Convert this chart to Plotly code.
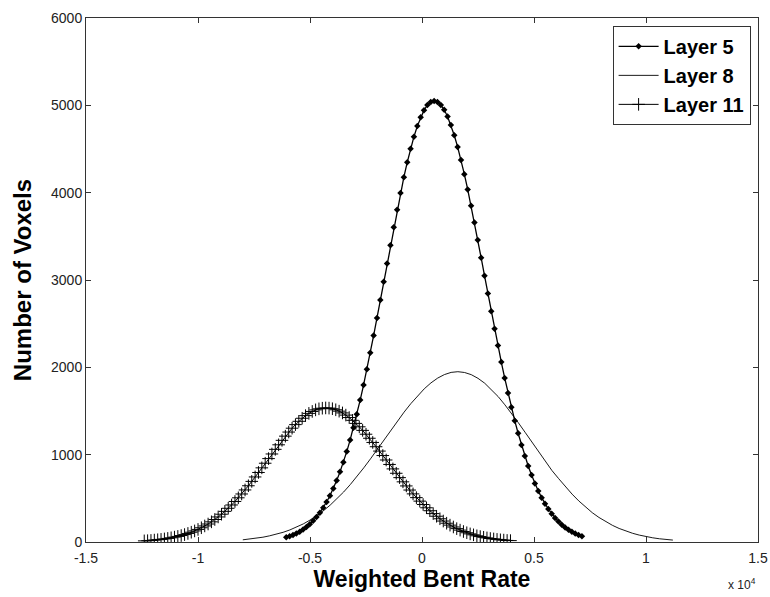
import plotly.graph_objects as go

# ---- data ----
# Layer 5: bins starting at -6060 with width 150
L5_START, L5_STEP = -6060, 150
layer5 = [54, 66, 80, 98, 118, 143, 171, 204, 242, 286, 336, 393, 458, 530, 612, 703,
          803, 914, 1035, 1167, 1309, 1462, 1625, 1797, 1978, 2168, 2364, 2565, 2771,
          2980, 3189, 3398, 3603, 3803, 3995, 4177, 4347, 4502, 4641, 4762, 4864, 4945,
          5003, 5038, 5050,
          5039, 5005, 4949, 4872, 4775, 4658, 4524, 4375, 4212, 4037, 3851, 3657, 3458,
          3255, 3050, 2845, 2642, 2443, 2249, 2060, 1879, 1706, 1543, 1389, 1245, 1110,
          986, 871, 767, 671, 585, 508, 439, 378, 324, 276, 234, 198, 167, 140, 117, 97,
          80, 66]

# Layer 8: bins starting at -8000 with width 300
L8_START, L8_STEP = -8000, 300
layer8 = [25, 33, 43, 55, 71, 89, 111, 138, 170, 207, 251, 301, 358, 422, 493, 572,
          658, 751, 849, 952, 1059, 1169, 1278, 1384, 1487, 1584, 1674, 1754, 1822, 1877,
          1917, 1942, 1950,
          1941, 1916, 1874, 1818, 1747, 1665, 1571, 1472, 1366, 1257, 1146, 1035, 925,
          819, 726, 633, 548, 470, 399, 336, 281, 232, 191, 155, 125, 100, 79, 62, 48,
          37, 29, 22]

# Layer 11: bins starting at -12400 with width 150
L11_START, L11_STEP = -12400, 150
layer11 = [13, 15, 18, 22, 26, 30, 35, 41, 48, 56, 64, 74, 85, 98, 112, 127, 144, 163,
           184, 206, 231, 258, 287, 318, 351, 386, 424, 464, 506, 550, 596, 644, 694,
           745, 796, 849, 902, 955, 1008, 1061, 1113, 1164, 1212, 1259, 1303, 1344, 1382,
           1417, 1447, 1473, 1495, 1513, 1525, 1532, 1535,
           1533, 1526, 1514, 1498, 1478, 1453, 1425, 1393, 1358, 1319, 1278, 1234, 1188,
           1140, 1091, 1041, 990, 939, 888, 837, 787, 737, 689, 642, 595, 551, 508, 468,
           429, 392, 358, 325, 295, 266, 240, 215, 193, 172, 153, 136, 120, 106, 93, 82,
           71, 62, 54, 47, 40, 35, 30, 25, 22, 18, 16]

x_tick_vals = [-15000, -10000, -5000, 0, 5000, 10000, 15000]
x_tick_text = ["-1.5", "-1", "-0.5", "0", "0.5", "1", "1.5"]
y_tick_vals = [0, 1000, 2000, 3000, 4000, 5000, 6000]

x5 = [L5_START + i * L5_STEP for i in range(len(layer5))]
x8 = [L8_START + i * L8_STEP for i in range(len(layer8))]
x11 = [L11_START + i * L11_STEP for i in range(len(layer11))]

FONT = "Liberation Sans, Arial, Helvetica, sans-serif"

fig = go.Figure()
fig.add_trace(go.Scatter(
    x=x5, y=layer5, mode="lines+markers", name="<b>Layer 5</b>",
    line=dict(color="black", width=1.3),
    marker=dict(symbol="diamond", size=5, color="black"),
))
fig.add_trace(go.Scatter(
    x=x8, y=layer8, mode="lines", name="<b>Layer 8</b>",
    line=dict(color="black", width=0.9),
))
fig.add_trace(go.Scatter(
    x=x11, y=layer11, mode="lines+markers", name="<b>Layer 11</b>",
    line=dict(color="black", width=1),
    marker=dict(symbol="cross-thin", size=9, color="black",
                line=dict(color="black", width=1)),
))

axis_common = dict(
    showline=True, linecolor="#333", linewidth=1, mirror="ticks",
    ticks="inside", ticklen=5, tickcolor="#333", tickwidth=1,
    showgrid=False, zeroline=False, automargin=False,
    tickfont=dict(family=FONT, size=14, color="#222"),
)

fig.update_xaxes(
    range=[-15000, 15000], tickvals=x_tick_vals, ticktext=x_tick_text,
    ticklabelstandoff=3,
    title=dict(text="<b>Weighted Bent Rate</b>", standoff=6,
               font=dict(family=FONT, size=23, color="black")),
    **axis_common,
)
fig.update_yaxes(
    range=[0, 6000], tickvals=y_tick_vals, tickformat="d",
    ticklabelstandoff=0,
    title=dict(text="<b>Number of Voxels</b>", standoff=12,
               font=dict(family=FONT, size=24, color="black")),
    **axis_common,
)

fig.add_annotation(
    text="x 10<sup>4</sup>", xref="paper", yref="paper", x=1.0, y=-0.08,
    xanchor="right", yanchor="middle", showarrow=False,
    font=dict(family=FONT, size=12, color="#222"),
)

fig.update_layout(
    width=770, height=597,
    margin=dict(l=86, r=12, t=18, b=55),
    paper_bgcolor="white", plot_bgcolor="white",
    showlegend=True,
    legend=dict(
        x=0.989, y=0.985, xanchor="right", yanchor="top",
        bgcolor="white", bordercolor="#333", borderwidth=1,
        font=dict(family=FONT, size=20, color="black"),
        itemwidth=40, tracegroupgap=0,
    ),
    font=dict(family=FONT),
)

fig.write_html(
    "out.html",
    config={"displayModeBar": False},
    post_script="document.body.style.margin='0';document.body.style.overflow='hidden';",
)
